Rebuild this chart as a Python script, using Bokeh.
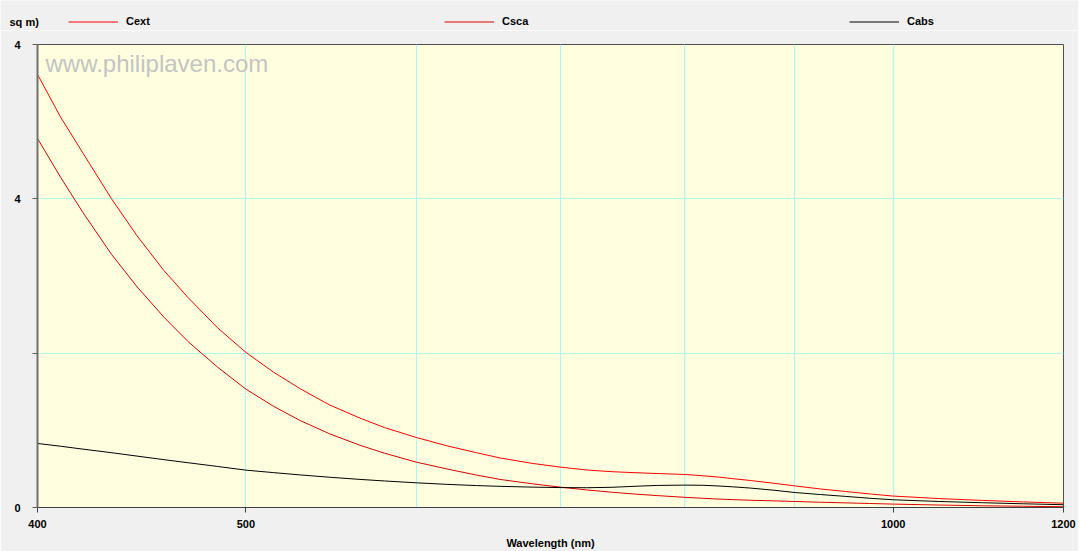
from bokeh.plotting import figure
from bokeh.layouts import column
from bokeh.models import FixedTicker, Label, Range1d, Legend, LegendItem
from bokeh.embed import file_html
from bokeh.resources import INLINE

# Data (cross sections, display units of the y axis)
wavelength = [400, 410, 420, 433, 445, 458, 470, 485, 500, 515, 530, 547, 565, 580, 600,
              620, 640, 657, 680, 700, 720, 740, 760, 777, 800, 815, 828, 842, 858, 880,
              900, 925, 950, 975, 1000, 1050, 1100, 1150, 1200]
cext = [2.806, 2.53, 2.295, 2.00, 1.76, 1.535, 1.36, 1.165, 1.005, 0.877, 0.769, 0.664, 0.579,
        0.518, 0.454, 0.40, 0.355, 0.32, 0.285, 0.262, 0.243, 0.232, 0.225, 0.22, 0.214, 0.206,
        0.198, 0.187, 0.175, 0.157, 0.14, 0.12, 0.104, 0.088, 0.074, 0.058, 0.046, 0.036, 0.028]
csca = [2.391, 2.14, 1.91, 1.64, 1.43, 1.233, 1.075, 0.91, 0.767, 0.656, 0.563, 0.477, 0.403,
        0.352, 0.294, 0.25, 0.21, 0.181, 0.153, 0.132, 0.114, 0.099, 0.086, 0.077, 0.066, 0.06,
        0.055, 0.051, 0.047, 0.043, 0.039, 0.034, 0.03, 0.026, 0.022, 0.016, 0.011, 0.008, 0.005]
cabs = [0.415, 0.397, 0.378, 0.355, 0.333, 0.31, 0.29, 0.266, 0.242, 0.226, 0.211, 0.196, 0.182,
        0.172, 0.16, 0.15, 0.142, 0.137, 0.132, 0.129, 0.128, 0.131, 0.138, 0.143, 0.145, 0.144,
        0.14, 0.134, 0.126, 0.112, 0.097, 0.084, 0.072, 0.06, 0.05, 0.039, 0.031, 0.024, 0.018]

x_ticks = [400, 500, 1000, 1200]
x_grid = [400, 500, 600, 700, 800, 900, 1000, 1200]
y_ticks = [0, 1, 2, 3]
y_tick_labels = {0: "0", 1: "", 2: "4", 3: "4"}
series_names = ["Cext", "Csca", "Cabs"]
series_colors = ["#ff0000", "#dd0000", "#000000"]
y_unit_text = "sq m)"
x_title = "Wavelength (nm)"
watermark = "www.philiplaven.com"

FONT = "Liberation Sans"
BG = "#f0f0f0"
W = 1078
BAND_H = 30
nan = float("nan")

# ---------------- top band with the legend ----------------
band = figure(width=W, height=BAND_H, x_range=Range1d(0, W), y_range=Range1d(0, BAND_H),
              output_backend="svg", toolbar_location=None,
              x_axis_location=None, y_axis_location=None,
              min_border_left=0, min_border_right=0, min_border_top=0, min_border_bottom=0)
if "frame_align" in band.properties():
    band.frame_align = False
band.grid.visible = False
band.outline_line_color = None
band.background_fill_color = BG
band.border_fill_color = BG

band.add_layout(Label(x=9, y=21, x_units="canvas", y_units="canvas", text=y_unit_text,
                      text_font=FONT, text_font_size="11px", text_font_style="bold",
                      text_color="#000000", text_baseline="middle", text_align="left"))

legend_x = [68, 444, 849]
for name, c, lx in zip(series_names, series_colors, legend_x):
    r = band.line([nan, nan], [nan, nan], line_color=c, line_width=1)
    lg = Legend(items=[LegendItem(label=name, renderers=[r])], location=(lx, 2.5),
                orientation="horizontal", background_fill_alpha=0, border_line_alpha=0,
                padding=0, margin=0, glyph_width=50, glyph_height=13, label_height=13,
                label_standoff=8, label_text_font=FONT, label_text_font_style="bold",
                label_text_font_size="11px", label_text_color="#000000")
    band.add_layout(lg)

# ---------------- main chart ----------------
p = figure(width=W, height=521, x_axis_type="log",
           x_range=Range1d(400, 1200), y_range=Range1d(0, 3),
           output_backend="svg", toolbar_location=None,
           min_border_left=37, min_border_right=15, min_border_top=14, min_border_bottom=44)

p.background_fill_color = "#ffffe0"
p.border_fill_color = BG
p.outline_line_color = "#505050"
p.outline_line_width = 1

for ys, c in zip([cext, csca, cabs], series_colors):
    p.line(wavelength, ys, line_color=c, line_width=1)

xa = p.xaxis[0]
xa.ticker = FixedTicker(ticks=x_ticks)
xa.minor_tick_line_color = None
xa.major_tick_in = 0
xa.major_tick_out = 5
xa.major_label_standoff = 7
xa.axis_line_color = "#404040"
xa.major_tick_line_color = "#404040"
xa.major_label_text_font = FONT
xa.major_label_text_font_style = "bold"
xa.major_label_text_font_size = "11px"
xa.major_label_text_color = "#000000"
xa.axis_label = x_title
xa.axis_label_standoff = 6
xa.axis_label_text_font = FONT
xa.axis_label_text_font_style = "bold"
xa.axis_label_text_font_size = "11px"
xa.axis_label_text_color = "#000000"

ya = p.yaxis[0]
ya.ticker = FixedTicker(ticks=y_ticks)
ya.major_label_overrides = y_tick_labels
ya.minor_tick_line_color = None
ya.major_tick_in = 0
ya.major_tick_out = 5
ya.major_label_standoff = 12
ya.axis_line_color = "#707070"
ya.axis_line_width = 2
ya.major_tick_line_color = "#606060"
ya.major_label_text_font = FONT
ya.major_label_text_font_style = "bold"
ya.major_label_text_font_size = "11px"
ya.major_label_text_color = "#000000"

p.xgrid.ticker = FixedTicker(ticks=x_grid)
p.ygrid.ticker = FixedTicker(ticks=y_ticks)
p.xgrid.grid_line_color = "#a6fbf6"
p.ygrid.grid_line_color = "#b4fbe8"

p.add_layout(Label(x=45, y=65 - BAND_H - 2, x_units="canvas", y_units="canvas", text=watermark,
                   text_font=FONT, text_font_size="24px", text_color="#c4c4c4",
                   text_baseline="middle", text_align="left"))

layout = column(band, p, spacing=0)
open("out.html", "w").write(file_html(layout, INLINE))
